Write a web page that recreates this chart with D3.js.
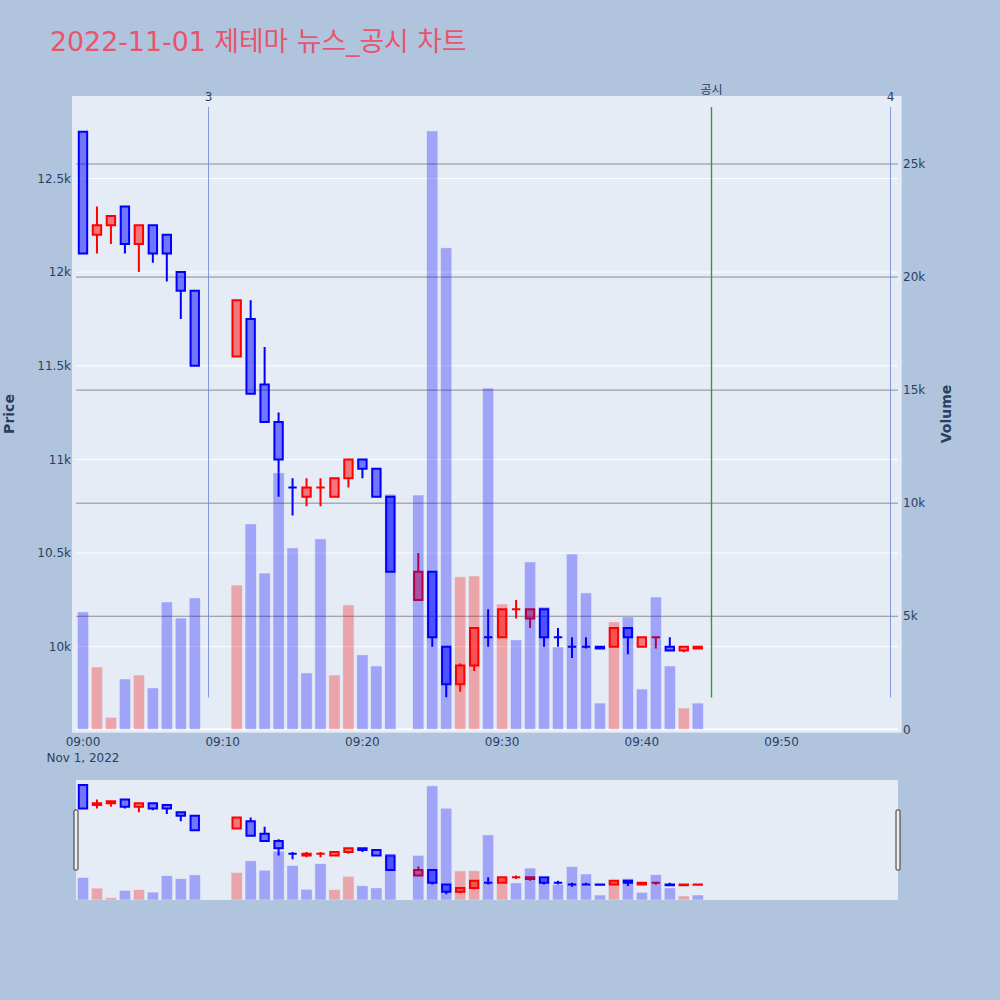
<!DOCTYPE html>
<html><head><meta charset="utf-8">
<script src="https://cdn.jsdelivr.net/npm/d3@7"></script>
<style>body{margin:0;background:#b0c4de;}svg{display:block;}</style>
</head><body><svg id="c" width="1000" height="1000"></svg>
<script>
// ---------- data ----------
const times = ["09:00","09:01","09:02","09:03","09:04","09:05","09:06","09:07","09:08",
  "09:11","09:12","09:13","09:14","09:15","09:16","09:17","09:18","09:19","09:20","09:21","09:22",
  "09:24","09:25","09:26","09:27","09:28","09:29","09:30","09:31","09:32","09:33","09:34","09:35",
  "09:36","09:37","09:38","09:39","09:40","09:41","09:42","09:43","09:44"];
const opens  = [12750,12200,12250,12350,12150,12250,12200,12000,11900,
  11550,11750,11400,11200,10850,10800,10850,10800,10900,11000,10950,10800,
  10250,10400,10000,9800,9900,10050,10050,10200,10150,10200,10050,10000,
  10000,10000,10000,10100,10000,10050,10000,9980,9990];
const highs  = [12750,12350,12300,12350,12250,12250,12200,12000,11900,
  11850,11850,11600,11250,10900,10900,10900,10900,11000,11000,10950,10800,
  10500,10400,10000,9910,10100,10200,10200,10250,10200,10200,10100,10050,
  10050,10000,10100,10100,10050,10050,10050,10000,10000];
const lows   = [12100,12100,12150,12100,12000,12050,11950,11750,11500,
  11550,11350,11200,10800,10700,10750,10750,10800,10850,10900,10800,10400,
  10250,10000,9730,9760,9870,10000,10050,10150,10100,10000,10000,9940,
  9990,9990,10000,9960,10000,9990,9980,9970,9990];
const closes = [12100,12250,12300,12150,12250,12100,12100,11900,11500,
  11850,11350,11200,11000,10850,10850,10850,10900,11000,10950,10800,10400,
  10400,10050,9800,9900,10100,10050,10200,10200,10200,10050,10050,10000,
  10000,9990,10100,10050,10050,10050,9980,10000,10000];
const volumes = [5190,2755,530,2225,2400,1830,5630,4920,5810,
  6380,9080,6910,11340,8020,2490,8420,2400,5500,3290,2800,10400,
  10360,26460,21290,6740,6780,15090,5540,3950,7400,5410,3640,7750,
  6030,1160,4750,4970,1780,5850,2800,940,1160];

const priceTicks = [10000,10500,11000,11500,12000,12500];
const priceTickLabels = ["10k","10.5k","11k","11.5k","12k","12.5k"];
const volumeTicks = [0,5000,10000,15000,20000,25000];
const volumeTickLabels = ["0","5k","10k","15k","20k","25k"];
const timeTicks = ["09:00","09:10","09:20","09:30","09:40","09:50"];
const markerTimes = ["09:09","09:45","09:57:50"];
const markerLabels = ["3","공시","4"];
const markerColors = ["rgba(110,130,215,0.8)","#2ca02c","rgba(110,130,215,0.8)"];
const markerWidths = [1, 1.4, 1];
const titleText = "2022-11-01 제테마 뉴스_공시 차트";

// ---------- helpers ----------
const parseT = s => { const p = s.split(":").map(Number); return new Date(2022,10,1,p[0],p[1],p[2]||0); };
const T = times.map(parseT);
const INC = "#ff0000", DEC = "#0000ff";
let prevDir = false, prevC = null;
const dirs = closes.map((c,i) => {
  const o = opens[i]; let d;
  if (c > o) d = true; else if (c < o) d = false;
  else if (prevC === null) d = false;
  else if (c > prevC) d = true; else if (c < prevC) d = false; else d = prevDir;
  prevDir = d; prevC = c; return d;
});
const volUp = closes.map((c,i) => i > 0 && c > closes[i-1]);

const svg = d3.select("#c");
const FONT = "'DejaVu Sans', 'Noto Sans CJK KR', sans-serif";
const TXT = "#2a3f5f";

// ---------- layout ----------
const plotL = 76, plotR = 898, plotT = 100, plotB = 729.3;
const x = d3.scaleTime().domain([parseT("08:59:30"), parseT("09:58:20")]).range([plotL, plotR]);
const yP = d3.scaleLinear().domain([9559, 12919]).range([plotB, plotT]);
const yV = d3.scaleLinear().domain([0, 27830]).range([plotB, plotT]);
const step = x(parseT("09:01")) - x(parseT("09:00"));

svg.append("rect").attr("x",0).attr("y",0).attr("width",1000).attr("height",1000).attr("fill","#b0c4de");
svg.append("text").attr("x",50).attr("y",50.5).attr("font-family",FONT).attr("font-size",26.8)
  .attr("fill","#e8546d").text(titleText);

svg.append("rect").attr("x",72).attr("y",96).attr("width",829.7).attr("height",636.7).attr("fill","#e5ecf6");

svg.append("g").selectAll("line").data(priceTicks).join("line")
  .attr("x1",plotL).attr("x2",plotR).attr("y1",d=>yP(d)).attr("y2",d=>yP(d))
  .attr("stroke","#ffffff").attr("stroke-width",1);
svg.append("g").selectAll("line").data(volumeTicks.filter(d=>d>0)).join("line")
  .attr("x1",plotL).attr("x2",plotR).attr("y1",d=>yV(d)).attr("y2",d=>yV(d))
  .attr("stroke","#8c8c8c").attr("stroke-width",1);
svg.append("line").attr("x1",plotL).attr("x2",plotR).attr("y1",yV(0)).attr("y2",yV(0))
  .attr("stroke","#ffffff").attr("stroke-width",2);

function candlePath(i, xs, ys) {
  const cx = xs(T[i]), w = step*0.3;
  const top = ys(Math.max(opens[i],closes[i])), bot = ys(Math.min(opens[i],closes[i]));
  return `M${cx-w},${top}H${cx+w}V${bot}H${cx-w}Z M${cx},${top}V${ys(highs[i])} M${cx},${bot}V${ys(lows[i])}`;
}
function drawCandles(g, xs, ys) {
  g.selectAll("path.cd").data(d3.range(T.length)).join("path").attr("class","cd")
    .attr("d", i => candlePath(i, xs, ys))
    .attr("stroke", i => dirs[i] ? INC : DEC).attr("stroke-width",2)
    .attr("fill", i => dirs[i] ? INC : DEC).attr("fill-opacity",0.5);
}
function drawBars(g, xs, ys) {
  g.selectAll("rect.vb").data(d3.range(T.length)).join("rect").attr("class","vb")
    .attr("x", i => xs(T[i]) - step*0.4).attr("width", step*0.8)
    .attr("y", i => ys(volumes[i])).attr("height", i => ys(0) - ys(volumes[i]))
    .attr("fill", i => volUp[i] ? INC : DEC).attr("stroke","#e5ecf6").attr("stroke-width",0.5)
    .attr("opacity",0.3);
}
drawCandles(svg.append("g"), x, yP);
drawBars(svg.append("g"), x, yV);

markerTimes.forEach((t,k) => {
  const xx = Math.round(x(parseT(t))) - 0.5;
  svg.append("line").attr("x1",xx).attr("x2",xx).attr("y1",107).attr("y2",697.5)
    .attr("stroke",markerColors[k]).attr("stroke-width",markerWidths[k]);
  svg.append("text").attr("x",xx).attr("y", k===1 ? 94 : 101).attr("text-anchor","middle")
    .attr("font-family",FONT).attr("font-size",12).attr("fill",TXT).text(markerLabels[k]);
});

svg.append("g").selectAll("text").data(priceTicks).join("text")
  .attr("x",71).attr("y",d=>yP(d)).attr("dy","0.35em").attr("text-anchor","end")
  .attr("font-family",FONT).attr("font-size",12).attr("fill",TXT)
  .text((d,i)=>priceTickLabels[i]);
svg.append("g").selectAll("text").data(volumeTicks).join("text")
  .attr("x",903).attr("y",d=>yV(d)).attr("dy","0.35em").attr("text-anchor","start")
  .attr("font-family",FONT).attr("font-size",12).attr("fill",TXT)
  .text((d,i)=>volumeTickLabels[i]);
svg.append("g").selectAll("text").data(timeTicks).join("text")
  .attr("x",d=>x(parseT(d))).attr("y",746).attr("text-anchor","middle")
  .attr("font-family",FONT).attr("font-size",12).attr("fill",TXT).text(d=>d);
svg.append("text").attr("x",x(parseT(timeTicks[0]))).attr("y",762).attr("text-anchor","middle")
  .attr("font-family",FONT).attr("font-size",12).attr("fill",TXT).text("Nov 1, 2022");

svg.append("text").attr("transform","translate(14,414) rotate(-90)").attr("text-anchor","middle")
  .attr("font-family",FONT).attr("font-size",14).attr("font-weight","bold").attr("fill",TXT).text("Price");
svg.append("text").attr("transform","translate(951,414) rotate(-90)").attr("text-anchor","middle")
  .attr("font-family",FONT).attr("font-size",14).attr("font-weight","bold").attr("fill",TXT).text("Volume");

// ---------- range slider ----------
const sT = 780, sB = 900;
const ysP = d3.scaleLinear().domain([9570, 12890]).range([sB, sT]);
const ysV = d3.scaleLinear().domain([0, 27830]).range([sB, sT]);
svg.append("rect").attr("x",plotL).attr("y",sT).attr("width",plotR-plotL).attr("height",sB-sT).attr("fill","#e5ecf6");
const sg = svg.append("g");
drawCandles(sg, x, ysP);
drawBars(sg, x, ysV);
[plotL-2, plotR-2].forEach(hx => {
  svg.append("rect").attr("x",hx).attr("y",810).attr("width",4).attr("height",60)
    .attr("fill","#eeeeee").attr("stroke","#333").attr("stroke-width",1).attr("rx",1);
});
</script></body></html>
